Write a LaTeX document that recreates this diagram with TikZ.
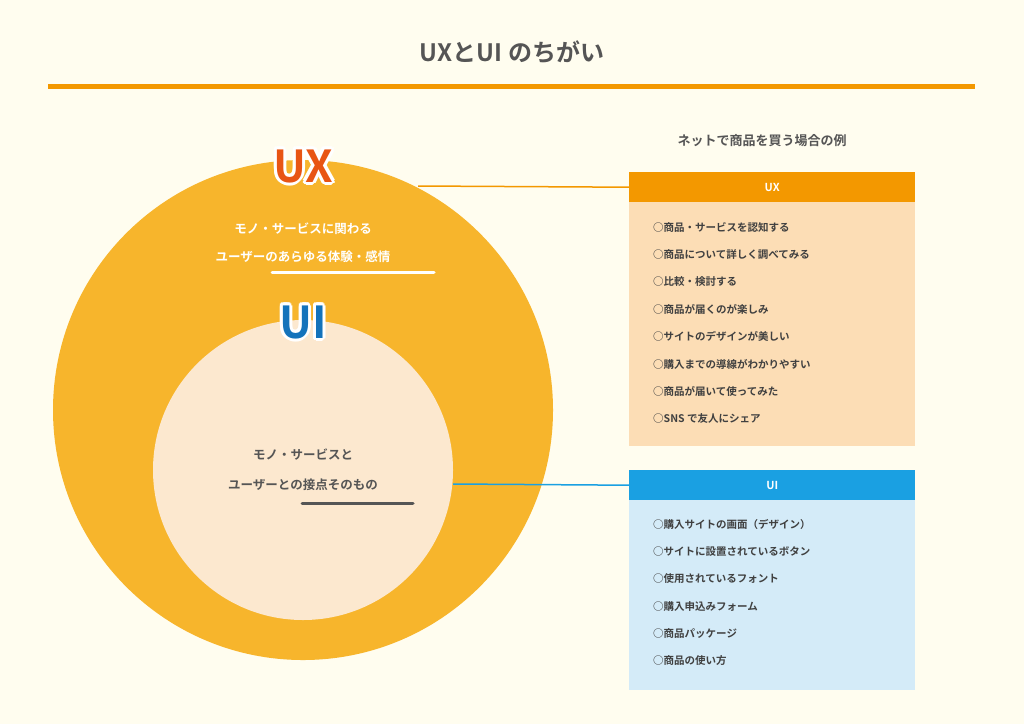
\documentclass[tikz,border=0pt]{standalone}
\usepackage{fontspec}
\usetikzlibrary{calc}
\setmainfont{Noto Sans CJK JP}[BoldFont={* Bold}]
\newfontfamily\jpb{Noto Sans CJK JP Bold}
\begin{document}
\begin{tikzpicture}[x=1pt,y=-1pt,
  txt/.style={font=\jpb\fontsize{10.5pt}{12pt}\selectfont,text=black!75,anchor=west,inner sep=0},
  hdr/.style={font=\jpb\fontsize{11pt}{12pt}\selectfont,text=white},
  big/.style={font=\jpb\fontsize{44pt}{46pt}\selectfont},
]
\definecolor{bg}{HTML}{FFFDEF}
\definecolor{org}{HTML}{F39800}
\definecolor{gold}{HTML}{F7B52C}
\definecolor{cream}{HTML}{FCE8CF}
\definecolor{ux}{HTML}{E85514}
\definecolor{ui}{HTML}{1473BB}
\definecolor{blu}{HTML}{1AA0E2}
\definecolor{lblu}{HTML}{D4EBF8}
\definecolor{peach}{HTML}{FCDDB5}
\definecolor{gr}{HTML}{555555}
\fill[bg] (0,0) rectangle (1024,724);
\useasboundingbox (0,0) rectangle (1024,724);
\node[font=\jpb\fontsize{24pt}{26pt}\selectfont,text=gr] (title) at (512,52) {UXとUI のちがい};
\draw[org,line width=5pt] (48,86) coordinate (l1) -- (975,86) coordinate (l2);
% circles
\fill[gold] (303,410) circle (250);
\fill[cream] (303,470) circle (150);
\foreach \a in {0,30,...,330}
  \node[big,text=white] (uxw\a) at ($(303,166)+(\a:3)$) {UX};
\node[big,text=ux] (uxl) at (303,166) {UX};
\foreach \a in {0,30,...,330}
  \node[big,text=white] (uiw\a) at ($(303,322)+(\a:3)$) {UI};
\node[big,text=ui] (uil) at (303,322) {UI};
\node[font=\jpb\fontsize{12.5pt}{14pt}\selectfont,text=white] (c1) at (303,229) {モノ・サービスに関わる};
\node[font=\jpb\fontsize{12.5pt}{14pt}\selectfont,text=white] (c2) at (303,257) {ユーザーのあらゆる体験・感情};
\draw[white,line width=3pt,line cap=round] (272,272) coordinate (u1) -- (434,272) coordinate (u2);
\node[font=\jpb\fontsize{12.5pt}{14pt}\selectfont,text=gr] (i1) at (303,455) {モノ・サービスと};
\node[font=\jpb\fontsize{12.5pt}{14pt}\selectfont,text=gr] (i2) at (303,485) {ユーザーとの接点そのもの};
\draw[gr,line width=3pt,line cap=round] (302,503) coordinate (v1) -- (413,503) coordinate (v2);
% right
\node[font=\jpb\fontsize{13pt}{14pt}\selectfont,text=gr] (ex) at (762,141) {ネットで商品を買う場合の例};
\fill[peach] (629,202) rectangle (915,446);
\node[fill=org,minimum width=286pt,minimum height=30pt,inner sep=0,anchor=north west,hdr] (uxh) at (629,172) {UX};
\fill[lblu] (629,500) rectangle (915,690);
\node[fill=blu,minimum width=286pt,minimum height=30pt,inner sep=0,anchor=north west,hdr] (uih) at (629,470) {UI};
\coordinate (uxe) at (418,186);
\coordinate (uie) at (453,484);
\draw[org,line width=1.5pt] (uxe) -- (uxh.west);
\draw[blu,line width=1.5pt] (uie) -- (uih.west);
\foreach \t [count=\i] in {○商品・サービスを認知する,○商品について詳しく調べてみる,○比較・検討する,○商品が届くのが楽しみ,○サイトのデザインが美しい,○購入までの導線がわかりやすい,○商品が届いて使ってみた,○SNS で友人にシェア}
  \node[txt] (a\i) at (653,{227+27.4*(\i-1)}) {\t};
\foreach \t [count=\i] in {○購入サイトの画面（デザイン）,○サイトに設置されているボタン,○使用されているフォント,○購入申込みフォーム,○商品パッケージ,○商品の使い方}
  \node[txt] (b\i) at (653,{524+27.4*(\i-1)}) {\t};
\end{tikzpicture}
\end{document}
